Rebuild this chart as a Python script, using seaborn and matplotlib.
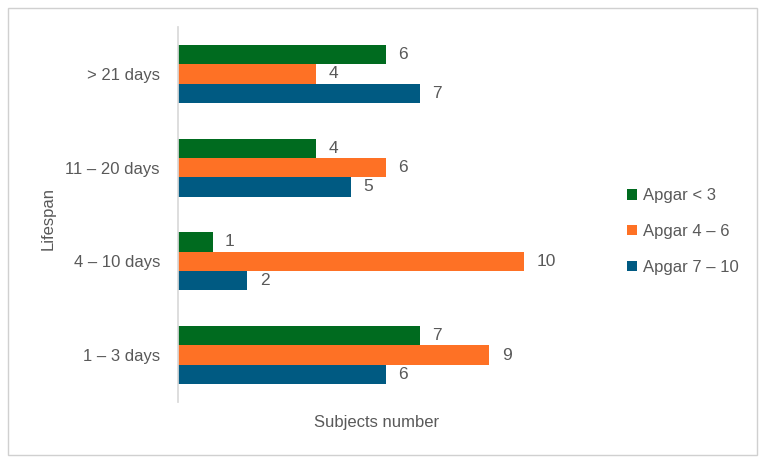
import pandas as pd
import matplotlib.pyplot as plt
import matplotlib.patches as patches
import seaborn as sns

# Data
lifespans = ["> 21 days", "11 – 20 days", "4 – 10 days", "1 – 3 days"]
groups = ["Apgar < 3", "Apgar 4 – 6", "Apgar 7 – 10"]
apgar_low = [6, 4, 1, 7]
apgar_mid = [4, 6, 10, 9]
apgar_high = [7, 5, 2, 6]

colors = ["#006b1f", "#fe7125", "#005a82"]
text_color = "#595959"

# Long format table for seaborn
rows = []
for name, vals in zip(groups, [apgar_low, apgar_mid, apgar_high]):
    for cat, v in zip(lifespans, vals):
        rows.append({"Lifespan": cat, "Group": name, "Subjects": v})
df = pd.DataFrame(rows)

sns.set_theme(style="white")
plt.rcParams["font.family"] = ["Liberation Sans", "DejaVu Sans"]

fig = plt.figure(figsize=(7.66, 4.65), dpi=100)
ax = fig.add_axes([0.2324, 0.1355, 0.4966, 0.8065])

sns.barplot(data=df, y="Lifespan", x="Subjects", hue="Group",
            order=lifespans, hue_order=groups, palette=colors,
            orient="h", width=0.62, saturation=1, linewidth=0,
            ax=ax, legend=True)

for cont in ax.containers:
    ax.bar_label(cont, padding=9, fontsize=12.5, color=text_color)

ax.set_xlim(0, 11)
ax.set_ylim(3.5, -0.5)
ax.set_xticks([])
ax.set_xlabel("Subjects number", fontsize=12, color=text_color)
ax.set_ylabel("Lifespan", fontsize=12, color=text_color)
ax.xaxis.set_label_coords(0.523, -0.035)
ax.yaxis.set_label_coords(-0.323, 0.49)
ax.tick_params(axis="y", length=0, labelsize=12, labelcolor=text_color, pad=13)
for s in ["top", "right", "bottom"]:
    ax.spines[s].set_visible(False)
ax.spines["left"].set_color("#d9d9d9")

handles, labels = ax.get_legend_handles_labels()
ax.get_legend().remove()
leg = fig.legend(handles, labels, loc="center left", bbox_to_anchor=(0.799, 0.502),
                 frameon=False, fontsize=12, labelcolor=text_color,
                 handlelength=0.6, handleheight=0.6, handletextpad=0.35,
                 labelspacing=1.25)

# Light grey border round the chart
fig.patches.append(patches.Rectangle((8 / 766, 10 / 465), 749 / 766, 447 / 465,
                                     transform=fig.transFigure, fill=False,
                                     edgecolor="#d0d0d0", linewidth=1))

plt.savefig("out.png", dpi=100)
